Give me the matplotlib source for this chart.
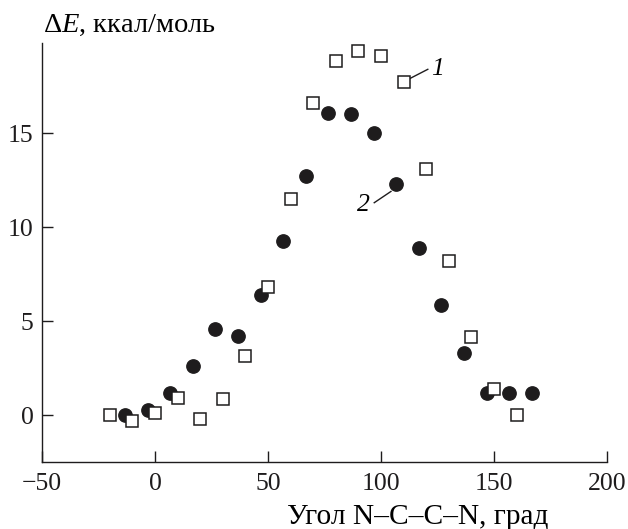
import numpy as np
import matplotlib
matplotlib.use('Agg')
import matplotlib.pyplot as plt

# curve 1 (open squares)
angle_1 = [-20, -10, 0, 10, 20, 30, 40, 50, 60, 70, 80, 90, 100, 110, 120, 130, 140, 150, 160]
energy_1 = [0.0, -0.3, 0.1, 0.9, -0.2, 0.85, 3.15, 6.8, 11.5, 16.6, 18.85, 19.4, 19.1, 17.7,
            13.1, 8.2, 4.15, 1.4, 0.0]

# curve 2 (filled circles)
angle_2 = [-13.3, -3.3, 6.7, 16.7, 26.7, 36.7, 46.7, 56.7, 66.7, 76.7, 86.7, 96.7, 106.7,
           116.7, 126.7, 136.7, 146.7, 156.7, 166.7]
energy_2 = [0.0, 0.27, 1.19, 2.62, 4.57, 4.2, 6.37, 9.26, 12.7, 16.1, 16.0, 15.0, 12.3,
            8.9, 5.83, 3.28, 1.19, 1.19, 1.19]

x_ticks = [-50, 0, 50, 100, 150, 200]
y_ticks = [0, 5, 10, 15]

plt.rcParams['font.family'] = ['Liberation Serif', 'DejaVu Serif']
plt.rcParams['mathtext.fontset'] = 'custom'
plt.rcParams['mathtext.rm'] = 'Liberation Serif'
plt.rcParams['mathtext.it'] = 'Liberation Serif:italic'

ink = '#1e1c1d'

fig = plt.figure(figsize=(6.28, 5.29), dpi=100)
ax = fig.add_axes([0.0669, 0.1267, 0.8997, 0.792])

ax.plot(angle_2, energy_2, 'o', ms=9.6, color=ink, mec=ink, zorder=3)
ax.plot(angle_1, energy_1, 's', ms=8.3, mfc='white', mec=ink, mew=1.1, zorder=4)

# curve labels with leader lines
ax.plot([111, 120.7], [17.8, 18.4], color=ink, lw=1.0)
ax.text(122.0, 18.4, '1', fontsize=18.5, style='italic', ha='left', va='center')
ax.plot([97.0, 104.4], [11.3, 11.9], color=ink, lw=1.0)
ax.text(92.0, 11.2, '2', fontsize=18.5, style='italic', ha='center', va='center')

ax.set_xlim(-50, 200)
ax.set_ylim(-2.5, 19.8)
ax.set_xticks(x_ticks)
ax.set_yticks(y_ticks)
ax.spines['top'].set_visible(False)
ax.spines['right'].set_visible(False)
for s in ['left', 'bottom']:
    ax.spines[s].set_linewidth(1.0)
    ax.spines[s].set_color(ink)
ax.tick_params(direction='in', length=8, width=1.0, labelsize=18.5, colors=ink)
ax.tick_params(axis='x', pad=8)
ax.tick_params(axis='y', pad=6)

fig.text(0.068, 0.9395, r'$\mathrm{\Delta}\mathit{E}$, ккал/моль', fontsize=20.5,
         ha='left', va='baseline')
fig.text(0.457, 0.0095, 'Угол N–C–C–N, град', fontsize=21.2, ha='left', va='baseline')

fig.savefig('out.png', dpi=100)
